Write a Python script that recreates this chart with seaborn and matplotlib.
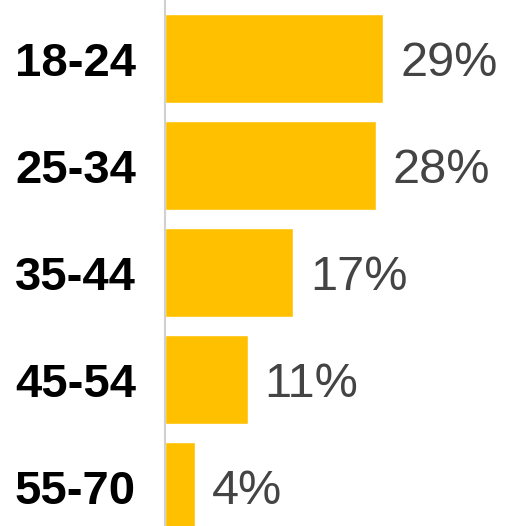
import matplotlib
matplotlib.use("Agg")
import matplotlib.pyplot as plt
import seaborn as sns
import pandas as pd

categories = ["18-24", "25-34", "35-44", "45-54", "55-70"]
values = [29, 28, 17, 11, 4]

df = pd.DataFrame({"age": categories, "pct": values})

sns.set_theme(style="white")
plt.rcParams['font.family'] = ['Liberation Sans', 'DejaVu Sans']

fig = plt.figure(figsize=(5.06, 5.26), dpi=100)
ax = fig.add_axes([165/506, 0, 341/506, 1])

sns.barplot(data=df, y="age", x="pct", orient="h", color="#FFC000",
            saturation=1, width=0.83, ax=ax)

ax.set_xlim(0, 341/7.52)
ax.set_ylim(4.369, -0.547)
ax.set_xlabel("")
ax.set_ylabel("")
ax.set_xticks([])
for s in ["top", "right", "bottom"]:
    ax.spines[s].set_visible(False)
ax.spines["left"].set_color("#d0d0d0")
ax.spines["left"].set_linewidth(1.5)
ax.tick_params(axis="y", length=0, pad=21)
for lbl in ax.get_yticklabels():
    lbl.set_fontsize(34)
    lbl.set_fontweight("bold")
    lbl.set_color("#000000")

for i, v in enumerate(values):
    ax.text(v + 17/7.52, i, f"{v}%", va="center_baseline", ha="left",
            fontsize=35, color="#444444")

fig.savefig("out.png", dpi=100)
